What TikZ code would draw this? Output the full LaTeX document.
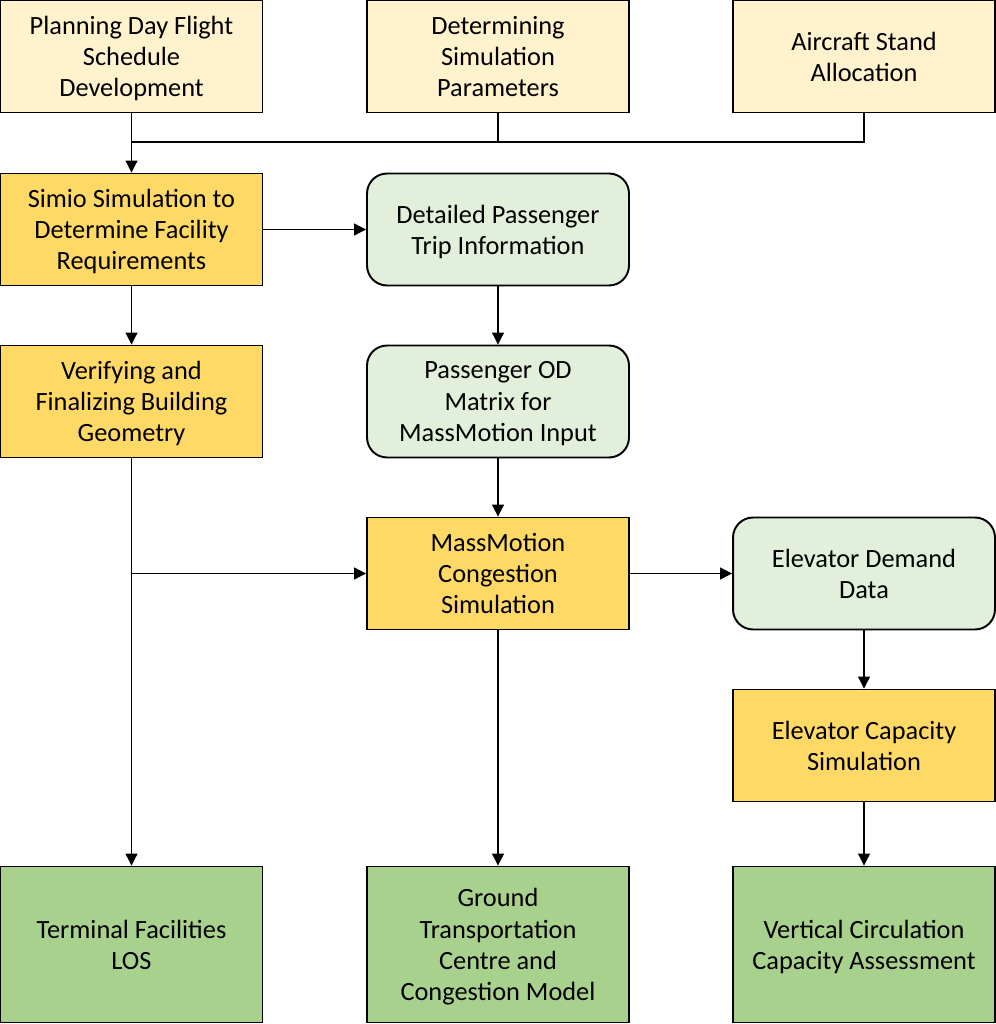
\documentclass[tikz,border=0pt]{standalone}
\usepackage{fontspec}
\setmainfont{Carlito}
\usetikzlibrary{arrows.meta}
\definecolor{lightyel}{HTML}{FFF2CC}
\definecolor{gold}{HTML}{FFD966}
\definecolor{lightgrn}{HTML}{E2EFDA}
\definecolor{midgrn}{HTML}{A9D18E}
\tikzset{
  box/.style={draw=black, line width=1.1pt, minimum width=5.24cm, minimum height=2.24cm, align=center, inner sep=2pt,
    font=\fontsize{15pt}{17.8pt}\selectfont, text depth=0pt},
  inbox/.style={box, fill=lightyel},
  procbox/.style={box, fill=gold},
  databox/.style={box, fill=lightgrn, rounded corners=0.4cm},
  outbox/.style={box, fill=midgrn, minimum height=3.12cm},
  conn/.style={line width=0.6pt, -{Triangle[length=0.24cm,width=0.24cm]}},
  plain/.style={line width=0.6pt}
}
\begin{document}
\begin{tikzpicture}[x=0.02cm,y=-0.02cm]
\useasboundingbox (0,0) rectangle (996,1024);
\node[inbox] (b1) at (131.5,56.5) {Planning Day Flight\\Schedule\\Development};
\node[inbox] (b2) at (498,56.5) {Determining\\Simulation\\Parameters};
\node[inbox] (b3) at (864,56.5) {Aircraft Stand\\Allocation};
\node[procbox] (simio) at (131.5,229.5) {Simio Simulation to\\Determine Facility\\Requirements};
\node[databox] (trip) at (498,229.5) {Detailed Passenger\\Trip Information};
\node[procbox] (verif) at (131.5,401.5) {Verifying and\\Finalizing Building\\Geometry};
\node[databox] (od) at (498,401.5) {Passenger OD\\Matrix for\\MassMotion Input};
\node[procbox] (mass) at (498,573.5) {MassMotion\\Congestion\\Simulation};
\node[databox] (elev) at (864,573.5) {Elevator Demand\\Data};
\node[procbox] (cap) at (864,745.5) {Elevator Capacity\\Simulation};
\node[outbox] (term) at (131.5,944.5) {Terminal Facilities\\LOS};
\node[outbox] (ground) at (498,944.5) {Ground\\Transportation\\Centre and\\Congestion Model};
\node[outbox] (vert) at (864,944.5) {Vertical Circulation\\Capacity Assessment};
\coordinate (j1) at (131.5,142);
\coordinate (j2) at (verif.south |- mass.west);
\draw[plain] (b2.south) |- (j1);
\draw[plain] (b3.south) |- (j1);
\draw[conn] (b1.south) -- (simio.north);
\draw[conn] (simio.east) -- (trip.west);
\draw[conn] (simio.south) -- (verif.north);
\draw[conn] (trip.south) -- (od.north);
\draw[conn] (od.south) -- (mass.north);
\draw[conn] (verif.south) -- (term.north);
\draw[conn] (j2) -- (mass.west);
\draw[conn] (mass.east) -- (elev.west);
\draw[conn] (mass.south) -- (ground.north);
\draw[conn] (elev.south) -- (cap.north);
\draw[conn] (cap.south) -- (vert.north);
\end{tikzpicture}
\end{document}
